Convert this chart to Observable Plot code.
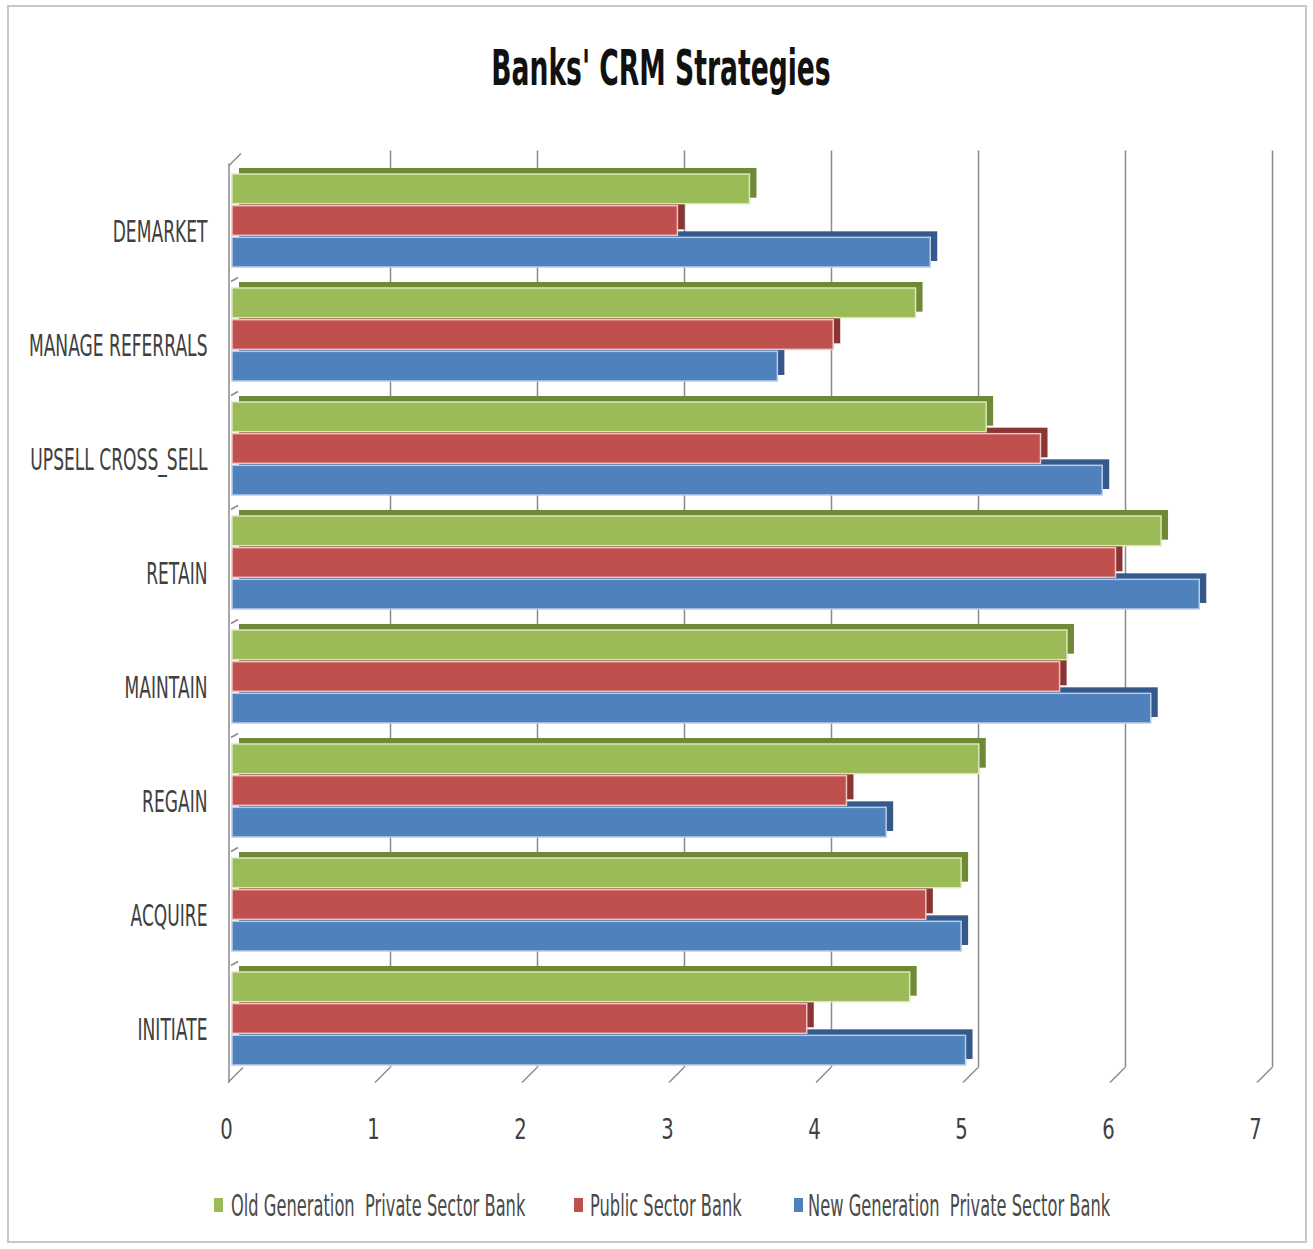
<!DOCTYPE html>
<html>
<head>
<meta charset="utf-8">
<script src="https://cdn.jsdelivr.net/npm/d3@7"></script>
<script src="https://cdn.jsdelivr.net/npm/@observablehq/plot@0.6"></script>
<style>
  html, body { margin: 0; padding: 0; background: #fff; }
  body { width: 1313px; height: 1249px; position: relative; overflow: hidden;
         font-family: "DejaVu Sans", sans-serif; }
  #frame { position: absolute; left: 7px; top: 5px; width: 1300px; height: 1238px;
           border: 2px solid #c8c8c8; box-sizing: border-box; }
  #chart { position: absolute; left: 0; top: 140px; }
  #overlay { position: absolute; left: 0; top: 0; }
</style>
</head>
<body>
<div id="frame"></div>
<div id="chart"></div>
<svg id="overlay" width="1313" height="1249" xmlns="http://www.w3.org/2000/svg"></svg>
<script>
const categories = ["DEMARKET", "MANAGE REFERRALS", "UPSELL CROSS_SELL", "RETAIN", "MAINTAIN", "REGAIN", "ACQUIRE", "INITIATE"];
const seriesNames = ["Old Generation  Private Sector Bank", "Public Sector Bank", "New Generation  Private Sector Bank"];
const oldGeneration = [3.52, 4.65, 5.13, 6.32, 5.68, 5.08, 4.96, 4.61];
const publicSector = [3.03, 4.09, 5.50, 6.01, 5.63, 4.18, 4.72, 3.91];
const newGeneration = [4.75, 3.71, 5.92, 6.58, 6.25, 4.45, 4.96, 4.99];
const xTicks = [0, 1, 2, 3, 4, 5, 6, 7];
const titleText = "Banks' CRM Strategies";

const faceColors = ["#9bbb59", "#c0504d", "#4f81bd"];
const sideColors = ["#6f8a36", "#8a3532", "#34598a"];
const edgeColors = ["#d9e8b8", "#f0c4c2", "#b8cdea"];

const seriesValues = [oldGeneration, publicSector, newGeneration];
const rows = [];
seriesValues.forEach((vals, s) => vals.forEach((v, i) => rows.push({category: categories[i], series: seriesNames[s], s, value: v})));

const bandPx = 95, third = bandPx / 3;
const depthX = 7, depthY = -6;
const ns = "http://www.w3.org/2000/svg";

function bars(s, kind) {
  const data = rows.filter(d => d.s === s);
  const opts = {
    x: "value", y: "category",
    insetTop: s * third + 1, insetBottom: (2 - s) * third + 1
  };
  if (kind === "side") {
    return Plot.barX(data, {...opts, fill: sideColors[s], dx: depthX, dy: depthY});
  }
  return Plot.barX(data, {...opts, fill: faceColors[s], stroke: edgeColors[s], strokeWidth: 1.5});
}

function wall(index, scales, values, dimensions) {
  const g = document.createElementNS(ns, "g");
  g.setAttribute("stroke", "#8a8a8a");
  g.setAttribute("fill", "none");
  g.setAttribute("stroke-width", "1.5");
  const yb = dimensions.height - dimensions.marginBottom;
  const yt = dimensions.marginTop;
  const add = (x1, y1, x2, y2) => {
    const l = document.createElementNS(ns, "line");
    l.setAttribute("x1", x1); l.setAttribute("y1", y1);
    l.setAttribute("x2", x2); l.setAttribute("y2", y2);
    g.appendChild(l);
  };
  for (const v of xTicks) {
    const px = scales.x(v);
    add(px + 11, yb - 8, px - 4, yb + 7);
  }
  const x0 = scales.x(0);
  add(x0 - 3, yt, x0 - 3, yb + 7);
  add(x0 - 3, yt + 2, x0 + 9, yt - 10);
  const y = scales.y;
  const step = y.step ? y.step() : 114;
  for (let i = 1; i < categories.length; i++) {
    const yy = y(categories[i]) - (step - bandPx) / 2 + 4;
    add(x0 - 1, yy, x0 + 6, yy - 4);
  }
  return g;
}

const plot = Plot.plot({
  width: 1313,
  height: 1020,
  marginLeft: 232,
  marginRight: 52,
  marginTop: 23.5,
  marginBottom: 84.5,
  style: {fontFamily: '"DejaVu Sans", sans-serif', background: "transparent"},
  x: {domain: [0, 7], axis: null},
  y: {domain: categories, paddingInner: 19 / 114, paddingOuter: 9.5 / 114, axis: null},
  marks: [
    Plot.ruleX(xTicks.slice(1), {x: d => d, dx: 11, insetTop: -13, insetBottom: 8, stroke: "#8a8a8a", strokeWidth: 1.5}),
    wall,
    bars(0, "side"), bars(1, "side"), bars(2, "side"),
    bars(0, "face"), bars(1, "face"), bars(2, "face"),
    Plot.text(categories, {y: d => d, text: d => d, frameAnchor: "left", textAnchor: "end", dx: -25, dy: 11, fontSize: 30, fill: "#404040"}),
    Plot.text(xTicks, {x: d => d, text: d => String(d), frameAnchor: "bottom", dy: 63, dx: -6, fontSize: 28, fill: "#404040"})
  ]
});
document.getElementById("chart").appendChild(plot);

function squeeze(el, factor) {
  const w = el.getComputedTextLength();
  if (w > 0) {
    el.setAttribute("textLength", (w * factor).toFixed(1));
    el.setAttribute("lengthAdjust", "spacingAndGlyphs");
  }
}
const tickStrings = xTicks.map(String);
plot.querySelectorAll("text").forEach(t => {
  const s = t.textContent;
  if (categories.includes(s)) squeeze(t, 0.57);
  else if (tickStrings.includes(s)) squeeze(t, 0.7);
});

// title and legend: horizontally condensed with a scale transform
const overlay = document.getElementById("overlay");
function addText(str, x, y, size, weight, color, anchor, factor) {
  const t = document.createElementNS(ns, "text");
  t.setAttribute("x", (x / factor).toFixed(2)); t.setAttribute("y", y);
  t.setAttribute("transform", `scale(${factor},1)`);
  t.setAttribute("font-size", size);
  t.setAttribute("font-weight", weight);
  t.setAttribute("fill", color);
  t.setAttribute("text-anchor", anchor);
  t.setAttribute("font-family", '"DejaVu Sans", sans-serif');
  t.style.whiteSpace = "pre";
  t.textContent = str;
  overlay.appendChild(t);
  return t;
}
addText(titleText, 661, 85, 50, "bold", "#111", "middle", 0.532);

const legendX = [{sw: 214, tx: 231}, {sw: 574, tx: 590}, {sw: 794, tx: 808}];
seriesNames.forEach((name, i) => {
  const r = document.createElementNS(ns, "rect");
  r.setAttribute("x", legendX[i].sw); r.setAttribute("y", 1198);
  r.setAttribute("width", 9); r.setAttribute("height", 14);
  r.setAttribute("fill", faceColors[i]);
  overlay.appendChild(r);
  addText(name, legendX[i].tx, 1216, 30, "normal", "#4a4a4a", "start", 0.543);
});
</script>
</body>
</html>
